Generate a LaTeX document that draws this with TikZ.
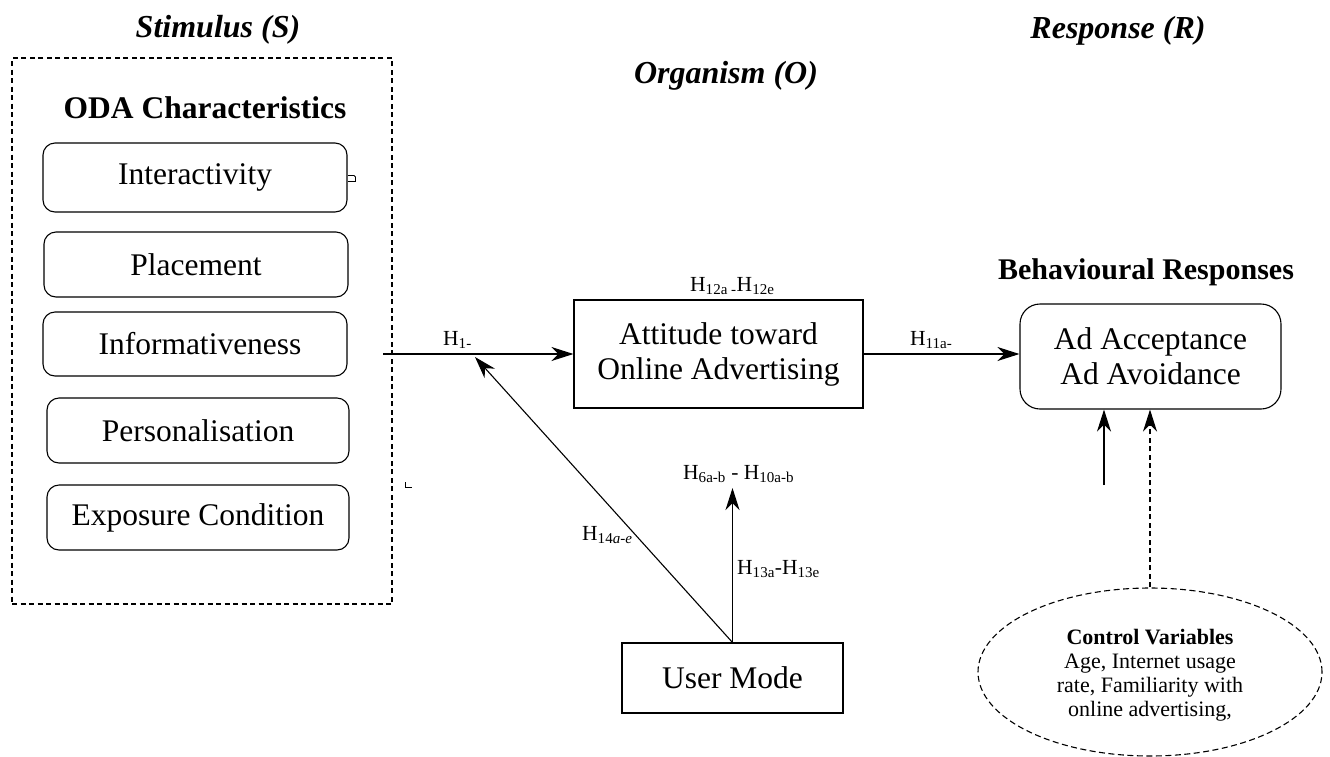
\documentclass[tikz,border=0pt]{standalone}
\usepackage{fontspec}
\setmainfont{Liberation Serif}
\usetikzlibrary{arrows.meta,shapes.geometric}

\begin{document}
\begin{tikzpicture}[x=1pt,y=-1pt,
  big/.style={font=\fontsize{31.5}{35}\selectfont},
  heading/.style={font=\fontsize{32}{36}\selectfont\bfseries\itshape, inner sep=0pt},
  item/.style={draw, line width=1.1pt, rounded corners=12pt, inner sep=0pt, big},
  sqbox/.style={draw, line width=1.1pt, inner sep=0pt, align=center, big},
  lbl/.style={font=\fontsize{21.5}{24}\selectfont, inner sep=0pt},
  arr/.style={line width=1.1pt, -{Stealth[length=22pt,width=14pt,inset=7pt]}},
  dashbox/.style={draw, line width=1.1pt, dash pattern=on 5pt off 3.5pt, inner sep=0pt},
]
\useasboundingbox (0,0) rectangle (1330,756);

% column headings
\node[heading, anchor=base] (hs) at (218,37) {Stimulus (S)};
\node[heading, anchor=base] (ho) at (726,83) {Organism (O)};
\node[heading, anchor=base] (hr) at (1118,38) {Response (R)};

% stimulus group
\node[dashbox, minimum width=380pt, minimum height=546pt] (stim) at (202,331) {};
\node[font=\fontsize{31.5}{35}\selectfont\bfseries, inner sep=0pt] (oda) at (205,108) {ODA Characteristics};
\node[item, minimum width=304pt, minimum height=69pt] (inter) at (195,177.5) {Interactivity};
\node[item, minimum width=304pt, minimum height=65pt] (place) at (196,264.5) {Placement};
\node[item, minimum width=304pt, minimum height=64pt] (info) at (195,344) {\hspace*{10pt}Informativeness};
\node[item, minimum width=302pt, minimum height=65pt] (pers) at (198,430.5) {Personalisation};
\node[item, minimum width=302pt, minimum height=65pt] (expo) at (198,517.5) {Exposure Condition};

% small stray marks
\draw[line width=0.9pt] (348,175.5) -- (354,175.5) -- (355.5,177) -- (355.5,181.5) -- (348,181.5);
\draw[line width=0.9pt] (405.5,482) -- (405.5,487) -- (411.5,487);

% organism
\node[sqbox, minimum width=289pt, minimum height=108pt] (att) at (718.5,354) {Attitude toward\\Online Advertising};
\node[sqbox, minimum width=221pt, minimum height=70pt] (um) at (732.5,678) {User Mode};

% response
\node[font=\fontsize{30}{34}\selectfont\bfseries, inner sep=0pt] (brh) at (1146,272) {Behavioural Responses};
\node[draw, line width=1.1pt, rounded corners=20pt, inner sep=0pt, align=center, big,
      minimum width=261pt, minimum height=105pt] (beh) at (1150.5,356.5) {Ad Acceptance\\Ad Avoidance};

% control variables
\node[draw, ellipse, line width=1.1pt, dash pattern=on 6pt off 3.5pt, inner sep=0pt,
      minimum width=344pt, minimum height=168pt] (ctrl) at (1150,672) {};
\node[font=\fontsize{22}{24}\selectfont, align=center, inner sep=0pt] (ctxt) at (1150,675)
  {\textbf{Control Variables}\\Age, Internet usage\\rate, Familiarity with\\online advertising,};

% connector end points
\coordinate (h1s) at (383,354);
\coordinate (modtip) at (475,357);
\coordinate (mtip) at (732.5,488);
\coordinate (cs) at (1104,485);

% connectors
\draw[arr] (h1s) -- (att.west);
\draw[arr] (att.east) -- (att.east -| beh.west);
\draw[arr] (um.north) -- (modtip);
\draw[arr] (um.north) -- (mtip);
\draw[arr] (cs) -- (cs |- beh.south);
\draw[arr, dash pattern=on 5pt off 3.5pt] (ctrl.north) -- (ctrl.north |- beh.south);

% hypothesis labels
\node[lbl, anchor=base west] (l1) at (443,345) {H\textsubscript{1-}};
\node[lbl, anchor=base west] (l12) at (690,291) {H\textsubscript{12a -}H\textsubscript{12e}};
\node[lbl, anchor=base west] (l11) at (910,345) {H\textsubscript{11a-}};
\node[lbl, anchor=base west] (l6) at (683,479) {H\textsubscript{6a-b} - H\textsubscript{10a-b}};
\node[lbl, anchor=base west] (l13) at (737,574) {H\textsubscript{13a}-H\textsubscript{13e}};
\node[lbl, anchor=base west] (l14) at (582,540) {H\textsubscript{14\textit{a-e}}};
\end{tikzpicture}
\end{document}
